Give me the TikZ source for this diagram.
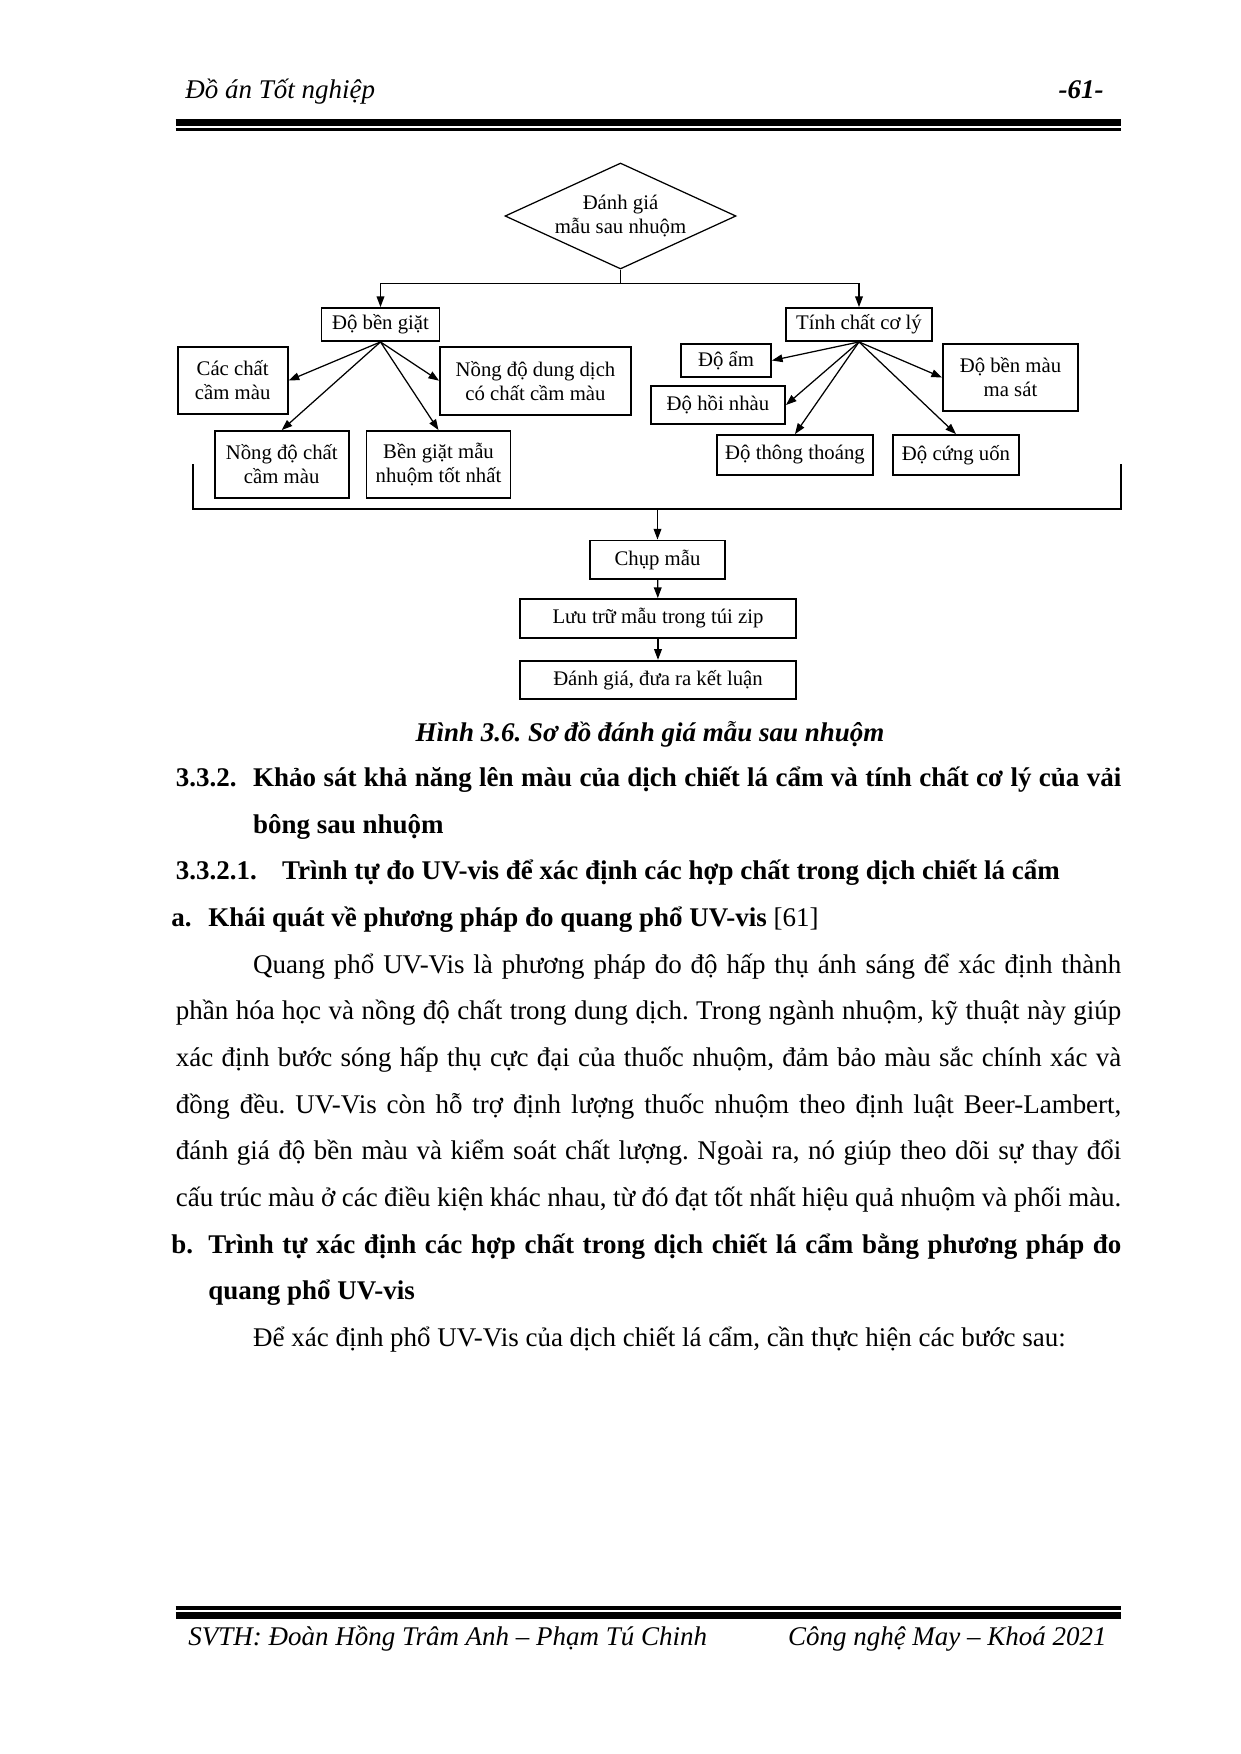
\documentclass[tikz,border=0pt]{standalone}
\usepackage{fontspec}
\setmainfont{Liberation Serif}
\usetikzlibrary{positioning,arrows.meta,shapes.geometric}

% one justified line of a given width
\newcommand{\jline}[2]{\hbox to #1{#2}}

\begin{document}
\frenchspacing
\begin{tikzpicture}[
    x=0.169333mm, y=-0.169333mm,
    sz/.style 2 args={minimum width=#1*0.48181pt, minimum height=#2*0.48181pt},
    box/.style={draw, line width=0.9pt, inner sep=0pt, align=center,
                font=\fontsize{10}{11.5}\selectfont},
    dec/.style={diamond, draw, line width=0.6pt, aspect=2.2, inner sep=0pt,
                align=center, font=\fontsize{10}{11.5}\selectfont, sz={231}{106}},
    arr/.style={-{Triangle[length=1.8mm, width=1.3mm]}, line width=0.6pt},
    lin/.style={line width=0.7pt},
    ln/.style={anchor=base west, inner sep=0pt, font=\fontsize{13}{15.6}\selectfont},
    hd/.style={ln, font=\fontsize{13}{15.6}\selectfont\bfseries},
    it/.style={ln, font=\fontsize{13}{15.6}\selectfont\itshape}
  ]
  \path[fill=white, use as bounding box] (0,0) rectangle (1240,1754);

  % header and footer
  \node[it] (head) at (185,98) {Đồ án Tốt nghiệp};
  \node[it, anchor=base east, font=\fontsize{13}{15.6}\selectfont\bfseries\itshape] (pg) at (1104,98) {-61-};
  \draw[line width=3.1pt] (175.5,122.5) -- (1121,122.5);
  \draw[line width=1.5pt] (175.5,129.7) -- (1121,129.7);
  \draw[line width=1.9pt] (175.5,1607.7) -- (1121,1607.7);
  \draw[line width=3.2pt] (175.5,1615.7) -- (1121,1615.7);
  \node[it] (svth) at (188,1645) {SVTH: Đoàn Hồng Trâm Anh – Phạm Tú Chinh};
  \node[it, anchor=base east] (khoa) at (1107,1645) {Công nghệ May – Khoá 2021};

  % diagram
  \node[dec] (eval) at (620.5,216) {Đánh giá\\mẫu sau nhuộm};
  \node[box, sz={118}{33}] (wash) at (380.5,324.5) {Độ bền giặt};
  \node[box, sz={146}{33}] (mech) at (859,324.5) {Tính chất cơ lý};

  \node[box, sz={110}{67}] (fix)  at (232.7,380.5) {Các chất\\cầm màu};
  \node[box, sz={191}{68}] (sol)  at (535.5,380.7) {Nồng độ dung dịch\\có chất cầm màu};
  \node[box, sz={134}{67}] (conc) at (281.7,464.5) {Nồng độ chất\\cầm màu};
  \node[box, sz={144}{67}] (best) at (438.5,464.5) {Bền giặt mẫu\\nhuộm tốt nhất};

  \node[box, sz={90}{33}]  (moist)  at (726,360.5)   {Độ ẩm};
  \node[box, sz={134}{38}] (crease) at (718,405)     {Độ hồi nhàu};
  \node[box, sz={135}{67}] (rub)    at (1010.5,377.5) {Độ bền màu\\ma sát};
  \node[box, sz={156}{40}] (air)    at (795,455)     {Độ thông thoáng};
  \node[box, sz={126}{40}] (stiff)  at (956,455)     {Độ cứng uốn};

  \node[box, sz={135}{38.5}] (photo) at (657.5,559.7) {Chụp mẫu};
  \node[box, sz={276}{39}]   (store) at (658,618.5)   {Lưu trữ mẫu trong túi zip};
  \node[box, sz={276}{38.5}] (concl) at (658,680)     {Đánh giá, đưa ra kết luận};

  \draw[lin] (eval.south) -- ++(0,14) coordinate (fork);
  \draw[arr] (fork) -| (wash.north);
  \draw[arr] (fork) -| (mech.north);

  \draw[arr] (wash.south) -- (fix.east);
  \draw[arr] (wash.south) -- (conc.north);
  \draw[arr] (wash.south) -- (best.north);
  \draw[arr] (wash.south) -- (sol.west);

  \draw[arr] (mech.south) -- (moist.east);
  \draw[arr] (mech.south) -- (crease.east);
  \draw[arr] (mech.south) -- (air.north);
  \draw[arr] (mech.south) -- (stiff.north);
  \draw[arr] (mech.south) -- (rub.west);

  % collecting bracket
  \coordinate (bl) at (193,464);
  \coordinate (br) at (1121,464);
  \coordinate (join) at (657.5,509);
  \draw[lin] (bl) -- ++(0,45) -| (br);
  \draw[arr] (join) -- (photo.north);
  \draw[arr] (photo) -- (store);
  \draw[arr] (store) -- (concl);

  \node[anchor=base, inner sep=0pt, font=\fontsize{13}{15.6}\selectfont\bfseries\itshape]
    (cap) at (650,741) {Hình 3.6. Sơ đồ đánh giá mẫu sau nhuộm};

  % text below the figure
  \node[hd] (n1) at (175.5,786.5) {3.3.2.};
  \node[hd] (h1) at (252.7,786.5) {\jline{418.3pt}{Khảo sát khả năng lên màu của dịch chiết lá cẩm và tính chất cơ lý của vải}};
  \node[hd] (h1b) at (252.7,833.2) {bông sau nhuộm};
  \node[hd] (n2) at (175.5,879.8) {3.3.2.1.};
  \node[hd] (h2) at (281.8,879.8) {Trình tự đo UV-vis để xác định các hợp chất trong dịch chiết lá cẩm};
  \node[hd] (n3) at (171,926.5) {a.};
  \node[hd] (h3) at (208,926.5) {Khái quát về phương pháp đo quang phổ UV-vis \textmd{[61]}};

  \node[ln] (p1) at (252.7,973.1) {\jline{418.3pt}{Quang phổ UV-Vis là phương pháp đo độ hấp thụ ánh sáng để xác định thành}};
  \node[ln] (p2) at (175.5,1019.8) {\jline{455.5pt}{phần hóa học và nồng độ chất trong dung dịch. Trong ngành nhuộm, kỹ thuật này giúp}};
  \node[ln] (p3) at (175.5,1066.5) {\jline{455.5pt}{xác định bước sóng hấp thụ cực đại của thuốc nhuộm, đảm bảo màu sắc chính xác và}};
  \node[ln] (p4) at (175.5,1113.1) {\jline{455.5pt}{đồng đều. UV-Vis còn hỗ trợ định lượng thuốc nhuộm theo định luật Beer-Lambert,}};
  \node[ln] (p5) at (175.5,1159.7) {\jline{455.5pt}{đánh giá độ bền màu và kiểm soát chất lượng. Ngoài ra, nó giúp theo dõi sự thay đổi}};
  \node[ln] (p6) at (175.5,1206.4) {\jline{455.5pt}{cấu trúc màu ở các điều kiện khác nhau, từ đó đạt tốt nhất hiệu quả nhuộm và phối màu.}};

  \node[hd] (n4) at (171,1253) {b.};
  \node[hd] (h4) at (208,1253) {\jline{439.9pt}{Trình tự xác định các hợp chất trong dịch chiết lá cẩm bằng phương pháp đo}};
  \node[hd] (h4b) at (208,1299.7) {quang phổ UV-vis};
  \node[ln] (p7) at (252.7,1346.3) {Để xác định phổ UV-Vis của dịch chiết lá cẩm, cần thực hiện các bước sau:};
\end{tikzpicture}
\end{document}
